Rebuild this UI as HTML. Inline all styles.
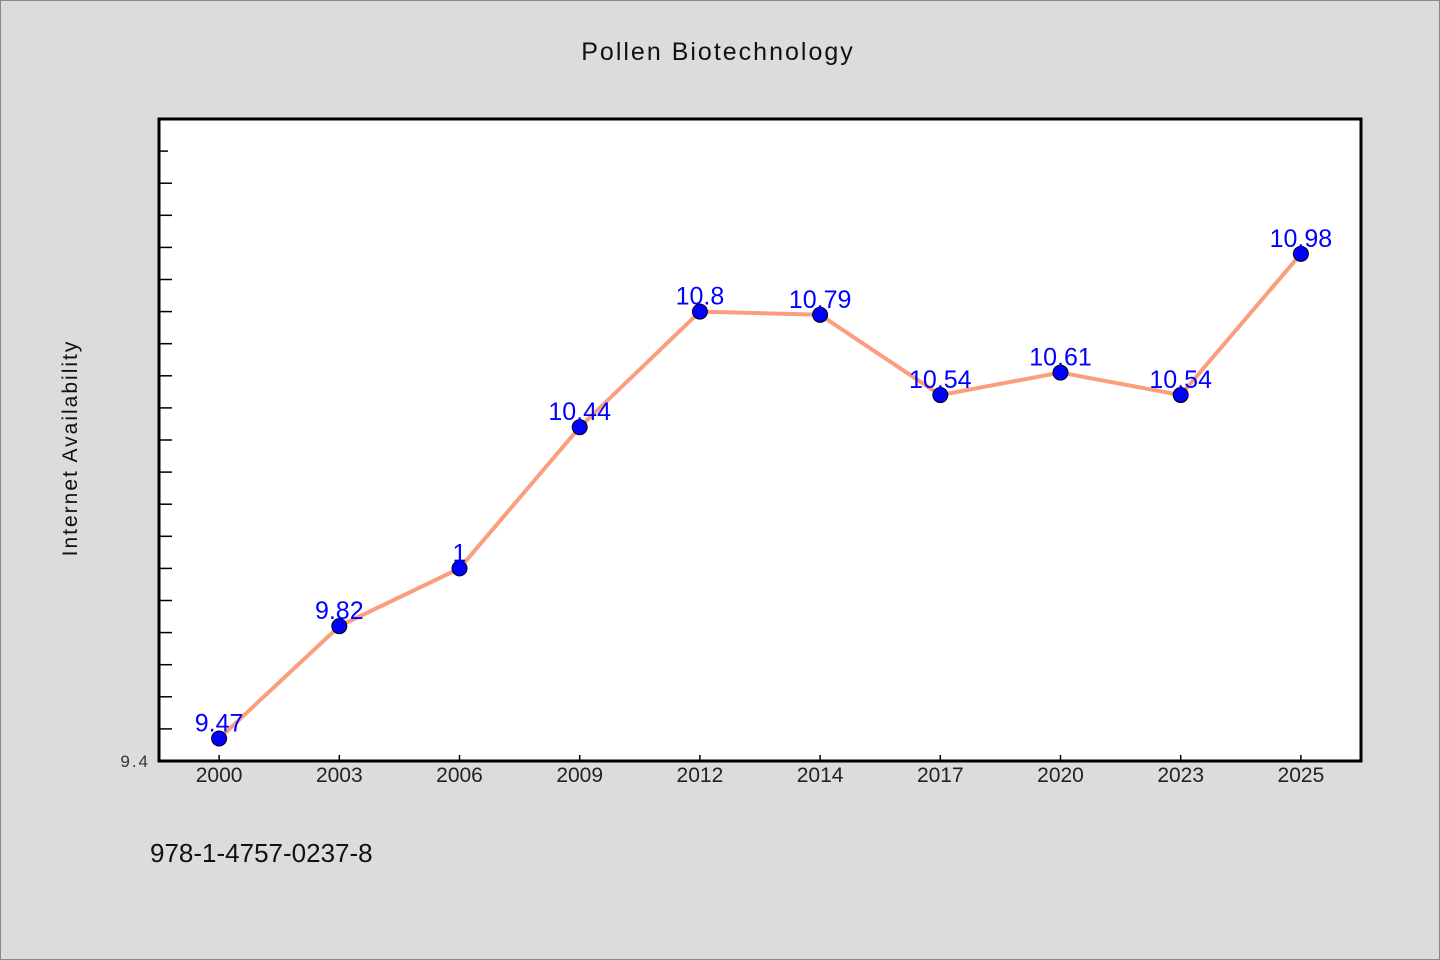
<!DOCTYPE html>
<html><head><meta charset="utf-8"><style>
body{margin:0;background:#dcdcdc;}
svg{display:block;font-family:"Liberation Sans","Noto Sans CJK SC",sans-serif;}
</style></head><body>
<svg width="1440" height="960">
<rect x="0.5" y="0.5" width="1439" height="959" fill="#dcdcdc" stroke="#888"/>
<text x="718" y="60" text-anchor="middle" font-size="25" letter-spacing="2" fill="#111">Pollen Biotechnology</text>
<rect x="159" y="119" width="1202" height="642" fill="#fff"/>
<g id="ticks"></g>
<text x="77" y="448" transform="rotate(-90 77 448)" text-anchor="middle" font-size="21" letter-spacing="2" fill="#111">Internet Availability</text>
<text x="150" y="767" text-anchor="end" font-size="17" letter-spacing="2" fill="#333">9.4</text>
<g id="series"></g>
<rect x="159" y="119" width="1202" height="642" fill="none" stroke="#000" stroke-width="3"/>
<text x="150" y="862" font-size="26" fill="#111">978-1-4757-0237-8</text>
</svg>
<script>
const categories=["2000","2003","2006","2009","2012","2014","2017","2020","2023","2025"];
const values=[9.47,9.82,10,10.44,10.8,10.79,10.54,10.61,10.54,10.98];
const labels=["9.47","9.82","1","10.44","10.8","10.79","10.54","10.61","10.54","10.98"];
const yMin=9.4,yMax=11.4;
const NS="http://www.w3.org/2000/svg";
const L=159,R=1361,T=119,B=761;
const band=(R-L)/categories.length;
const x=i=>L+band*(i+0.5);
const y=v=>B-(v-yMin)/(yMax-yMin)*(B-T);
function mk(t,a){const e=document.createElementNS(NS,t);for(const k in a)e.setAttribute(k,a[k]);return e;}
const tg=document.getElementById('ticks');
for(let k=1;k<20;k++){const v=yMin+k*0.1;
const e=mk('line',{x1:L,x2:L+(k===19?9:13),y1:y(v),y2:y(v),stroke:'#000','stroke-width':1.5});


tg.appendChild(e);}
categories.forEach((c,i)=>{
const t=mk('line',{x1:x(i),x2:x(i),y1:B-6,y2:B,stroke:'#000','stroke-width':1.5});


tg.appendChild(t);
const l=mk('text',{x:x(i),y:782,'text-anchor':'middle','font-size':21,fill:'#222'});
l.textContent=c;


tg.appendChild(l);});
const sg=document.getElementById('series');
const line=mk('polyline',{points:values.map((v,i)=>x(i)+','+y(v)).join(' '),fill:'none',stroke:'#fa9e7e','stroke-width':4,'stroke-linejoin':'round'});


sg.appendChild(line);
values.forEach((v,i)=>{
const p=mk('circle',{cx:x(i),cy:y(v),r:7.5,fill:'#0000ff',stroke:'#000','stroke-width':1});


sg.appendChild(p);
const t=mk('text',{x:x(i),y:y(v)-7,'text-anchor':'middle','font-size':25,fill:'#0000ff'});
t.textContent=labels[i];


sg.appendChild(t);});
</script>
</body></html>
